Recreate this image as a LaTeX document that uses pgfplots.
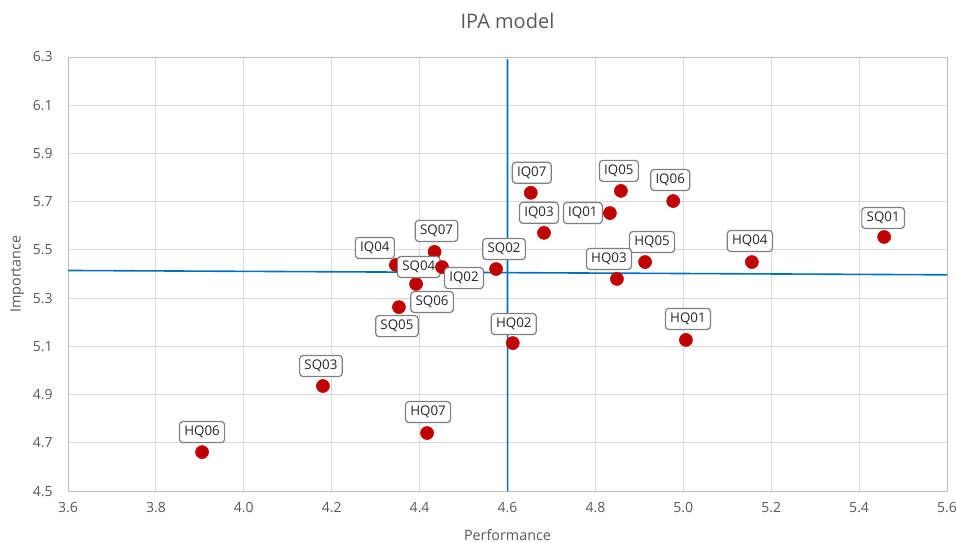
\documentclass[border=0pt]{standalone}
\usepackage{pgfplots}
\usepackage{pgfplotstable}
\pgfplotsset{compat=1.18}
\usepackage{fontspec}
\setmainfont{Open Sans}
\definecolor{dotred}{RGB}{192,0,0}
\definecolor{linblue}{RGB}{0,112,192}
\definecolor{txtgray}{RGB}{89,89,89}
\definecolor{gridgray}{RGB}{217,217,217}
\definecolor{axgray}{RGB}{191,191,191}
\definecolor{boxgray}{RGB}{128,128,128}
\definecolor{lbltxt}{RGB}{40,40,40}
\pgfplotstableread{
x y label dx dy
3.905 4.662 HQ06 0 15
4.180 4.936 SQ03 -1.5 15
4.417 4.741 HQ07 0.75 15.75
4.353 5.263 SQ05 -1.5 -14.25
4.392 5.359 SQ06 12 -13.5
4.346 5.438 IQ04 -15.75 12.75
4.434 5.492 SQ07 1.5 15.75
4.430 5.438 SQ04 -10.5 -1.5
4.451 5.429 IQ02 16.5 -8.25
4.574 5.421 SQ02 6 15
4.653 5.737 IQ07 0.75 15
4.683 5.571 IQ03 -3.75 15
4.833 5.653 IQ01 -20.25 0
4.858 5.745 IQ05 -1.5 15
4.977 5.703 IQ06 -2.25 15.75
4.913 5.450 HQ05 5.25 15
4.849 5.380 HQ03 -6 15
4.612 5.114 HQ02 0.75 14.25
5.006 5.127 HQ01 1.5 15.75
5.156 5.450 HQ04 -1.5 15.75
5.457 5.554 SQ01 -0.75 14.25
}\data
\begin{document}
\begin{tikzpicture}
\begin{axis}[
  scale only axis,
  width=659pt, height=325.5pt,
  xmin=3.6, xmax=5.6, ymin=4.5, ymax=6.3,
  xtick={3.6,3.8,...,5.61}, ytick={4.5,4.7,...,6.31},
  xticklabel style={/pgf/number format/fixed,/pgf/number format/fixed zerofill,/pgf/number format/precision=1, yshift=-5pt},
  yticklabel style={/pgf/number format/fixed,/pgf/number format/fixed zerofill,/pgf/number format/precision=1, xshift=-8pt},
  /pgf/number format/assume math mode=true,
  tick label style={font=\fontsize{10.5}{12}\selectfont, text=txtgray},
  major tick length=0pt,
  grid=major,
  grid style={gridgray, line width=0.75pt},
  axis line style={axgray, line width=0.75pt},
  title={IPA model},
  title style={font=\fontsize{15}{18}\selectfont, text=txtgray, at={(axis description cs:0.5,1)}, anchor=center, yshift=21pt},
  xlabel={Performance},
  xlabel style={font=\fontsize{10.75}{13}\selectfont, text=txtgray, at={(axis description cs:0.5,0)}, anchor=center, yshift=-33pt},
  ylabel={Importance},
  ylabel style={font=\fontsize{10.75}{13}\selectfont, text=txtgray, at={(axis description cs:0,0.5)}, anchor=center, yshift=38pt},
  clip=false,
]
\addplot[draw=linblue, line width=1.2pt] coordinates {(4.6002,4.5) (4.5999,6.29)};
\addplot[draw=linblue, line width=1.2pt] coordinates {(3.6,5.415) (5.6,5.397)};
\addplot[only marks, mark=*, mark size=4.9pt, color=dotred,
  nodes near coords, point meta=explicit symbolic,
  visualization depends on={\thisrow{dx}\as\dx},
  visualization depends on={\thisrow{dy}\as\dy},
  every node near coord/.append style={anchor=center, xshift=\dx pt, yshift=\dy pt,
    draw=boxgray, line width=0.9pt, rounded corners=2.5pt, fill=white, text=lbltxt,
    font=\fontsize{10}{12}\selectfont, inner xsep=3.6pt, inner ysep=3.4pt}
] table[x=x, y=y, meta=label]{\data};
\coordinate (ll) at (rel axis cs:0,0);
\coordinate (ur) at (rel axis cs:1,1);
\end{axis}
\pgfresetboundingbox
\useasboundingbox ([shift={(-51pt,-38.25pt)}]ll) rectangle ([shift={(6.75pt,42.75pt)}]ur);
\end{tikzpicture}
\end{document}
